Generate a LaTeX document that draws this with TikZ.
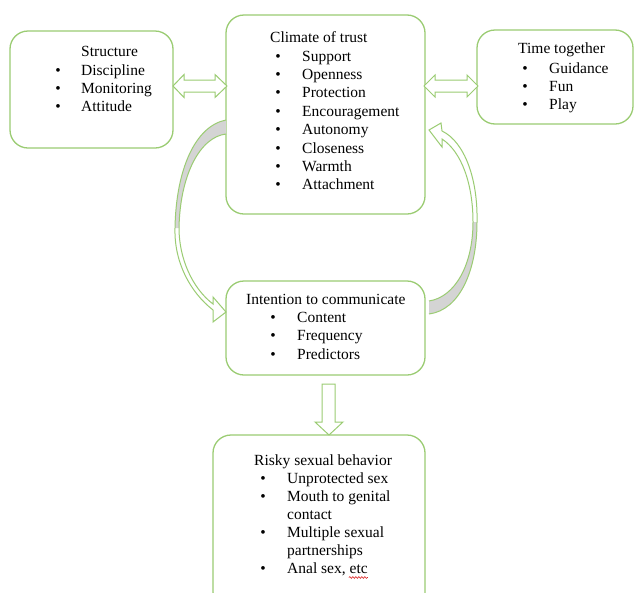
\documentclass[tikz,border=0pt]{standalone}
\usepackage{fontspec}
\setmainfont{Liberation Serif}
\usetikzlibrary{decorations.pathmorphing,calc}
\definecolor{boxgreen}{RGB}{155,204,115}
\definecolor{bandgrey}{RGB}{212,212,212}
\definecolor{squiggle}{RGB}{220,40,40}
\begin{document}
\begin{tikzpicture}[x=1pt,y=-1pt,
  box/.style={draw=boxgreen, line width=1.3pt, rounded corners=18pt, fill=white, inner sep=0pt},
  txt/.style={inner sep=0pt, anchor=base west, font=\fontsize{15.5}{18}\selectfont},
  bul/.style={inner sep=0pt, anchor=base, font=\fontsize{15.5}{18}\selectfont},
  blockarrow/.style={draw=boxgreen, line width=1pt, line join=miter}]
\path[use as bounding box] (0,0) rectangle (634,592);
\clip (0,0) rectangle (634,592);
\fill[white] (0,0) rectangle (634,592);

% boxes
\node[box, minimum width=163pt, minimum height=117pt] (structure) at (91.5,89.5) {};
\node[box, minimum width=199pt, minimum height=199pt] (climate) at (325.5,114.5) {};
\node[box, minimum width=156pt, minimum height=94pt] (time) at (555,77) {};
\node[box, minimum width=199pt, minimum height=94pt] (intention) at (325.5,328) {};
\node[box, minimum width=212pt, minimum height=175pt] (risky) at (319,522.5) {};

% double arrows
\draw[blockarrow, fill=white] (173,86) -- (184,74.5) -- (184,80) -- (215,80) -- (215,74.5) -- (227,86) -- (215,97.5) -- (215,92) -- (184,92) -- (184,97.5) -- cycle;
\draw[blockarrow, fill=white] (424,86) -- (435,75) -- (435,80) -- (467,80) -- (467,75) -- (478,86) -- (467,97) -- (467,92) -- (435,92) -- (435,97) -- cycle;
% down arrow
\draw[blockarrow, fill=white] (322,384) -- (335,384) -- (335,422) -- (343,422) -- (329,435) -- (315,422) -- (322,422) -- cycle;

% left curved arrow
\fill[bandgrey] (226,120) .. controls (195,126) and (176,170) .. (175,228) -- (179,228) .. controls (180,175) and (200,137) .. (226,134) -- cycle;
\draw[blockarrow] (226,120) .. controls (195,126) and (176,170) .. (175,228) .. controls (174,262) and (190,292) .. (213,310) -- (213,322) -- (226,312) -- (213,297) -- (213,304) .. controls (192,288) and (179,258) .. (179,228) .. controls (180,175) and (200,137) .. (226,134);

% right curved arrow
\fill[bandgrey] (429,314) .. controls (460,310) and (477,270) .. (477,222) -- (473,222) .. controls (473,265) and (455,297) .. (429,301) -- cycle;
\draw[blockarrow] (429,314) .. controls (460,310) and (477,270) .. (477,222) .. controls (478,180) and (465,142) .. (442,131) -- (441,123) -- (429,130) -- (442,147) -- (442,139) .. controls (462,152) and (473,185) .. (473,222) .. controls (473,265) and (455,297) .. (429,301);

% structure texts
\node[txt] (s0) at (81,56) {Structure};
\node[bul] (sb1) at (58,75) {•};
\node[txt] (s1) at (81,75) {Discipline};
\node[bul] (sb2) at (58,93) {•};
\node[txt] (s2) at (81,93) {Monitoring};
\node[bul] (sb3) at (58,111) {•};
\node[txt] (s3) at (81,111) {Attitude};

% climate texts
\node[txt] (c0) at (270,42) {Climate of trust};
\node[bul] (cb1) at (278,61) {•};
\node[txt] (c1) at (302,61) {Support};
\node[bul] (cb2) at (278,79.4) {•};
\node[txt] (c2) at (302,79.4) {Openness};
\node[bul] (cb3) at (278,97.8) {•};
\node[txt] (c3) at (302,97.8) {Protection};
\node[bul] (cb4) at (278,116.2) {•};
\node[txt] (c4) at (302,116.2) {Encouragement};
\node[bul] (cb5) at (278,134.6) {•};
\node[txt] (c5) at (302,134.6) {Autonomy};
\node[bul] (cb6) at (278,153) {•};
\node[txt] (c6) at (302,153) {Closeness};
\node[bul] (cb7) at (278,171.4) {•};
\node[txt] (c7) at (302,171.4) {Warmth};
\node[bul] (cb8) at (278,189.8) {•};
\node[txt] (c8) at (302,189.8) {Attachment};

% time together texts
\node[txt] (t0) at (518,53) {Time together};
\node[bul] (tb1) at (525,73) {•};
\node[txt] (t1) at (549,73) {Guidance};
\node[bul] (tb2) at (525,91) {•};
\node[txt] (t2) at (549,91) {Fun};
\node[bul] (tb3) at (525,109) {•};
\node[txt] (t3) at (549,109) {Play};

% intention texts
\node[txt] (i0) at (246,304) {Intention to communicate};
\node[bul] (ib1) at (273,322) {•};
\node[txt] (i1) at (297,322) {Content};
\node[bul] (ib2) at (273,340.5) {•};
\node[txt] (i2) at (297,340.5) {Frequency};
\node[bul] (ib3) at (273,359) {•};
\node[txt] (i3) at (297,359) {Predictors};

% risky texts
\node[txt] (r0) at (254,465) {Risky sexual behavior};
\node[bul] (rb1) at (263,483) {•};
\node[txt] (r1) at (287,483) {Unprotected sex};
\node[bul] (rb2) at (263,501.5) {•};
\node[txt] (r2) at (287,501.5) {Mouth to genital};
\node[txt] (r3) at (287,519.5) {contact};
\node[bul] (rb4) at (263,537.5) {•};
\node[txt] (r4) at (287,537.5) {Multiple sexual};
\node[txt] (r5) at (287,555.5) {partnerships};
\node[bul] (rb6) at (263,573.5) {•};
\node[txt] (r6) at (287,573.5) {Anal sex, etc};
\coordinate (sqA) at ($(r6.base east)+(-19,4)$);
\coordinate (sqB) at ($(r6.base east)+(0,4)$);
\draw[squiggle, line width=0.6pt, decorate, decoration={snake, amplitude=0.9pt, segment length=3pt}] (sqA) -- (sqB);
\end{tikzpicture}
\end{document}
